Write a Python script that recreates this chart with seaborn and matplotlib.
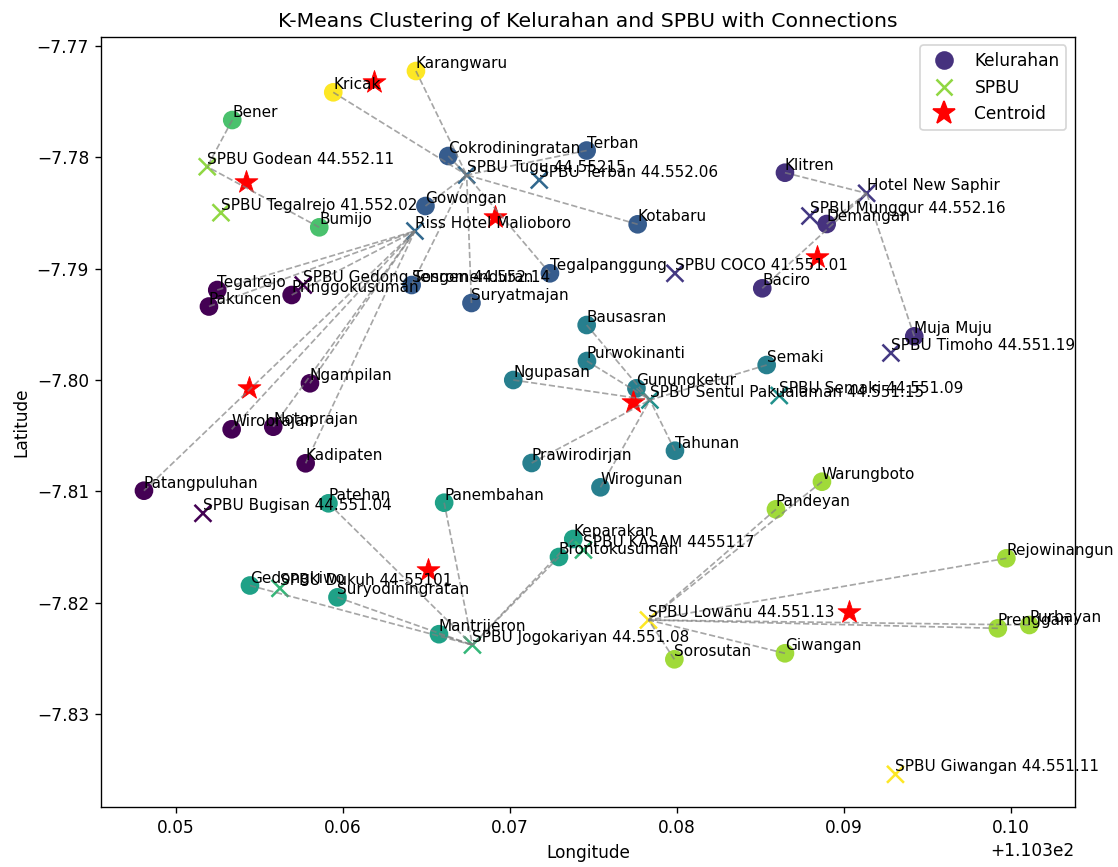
import matplotlib
matplotlib.use("Agg")
import matplotlib.pyplot as plt
from matplotlib.lines import Line2D
import seaborn as sns

# Kelurahan (villages) in Kota Yogyakarta with their K-Means cluster
kelurahan = [
    "Baciro", "Bausasran", "Bener", "Brontokusuman", "Bumijo", "Cokrodiningratan",
    "Demangan", "Gedongkiwo", "Giwangan", "Gowongan", "Gunungketur", "Kadipaten",
    "Karangwaru", "Keparakan", "Klitren", "Kotabaru", "Kricak", "Mantrijeron",
    "Muja Muju", "Ngampilan", "Ngupasan", "Notoprajan", "Pakuncen", "Pandeyan",
    "Panembahan", "Patangpuluhan", "Patehan", "Prawirodirjan", "Prenggan",
    "Pringgokusuman", "Purbayan", "Purwokinanti", "Rejowinangun", "Semaki",
    "Sorosutan", "Sosromenduran", "Suryatmajan", "Suryodiningratan", "Tahunan",
    "Tegalpanggung", "Tegalrejo", "Terban", "Warungboto", "Wirobrajan", "Wirogunan",
]
kel_lon = [
    110.385108, 110.374593, 110.353371, 110.372934, 110.358581, 110.366305,
    110.388964, 110.354431, 110.386467, 110.364940, 110.377575, 110.357766,
    110.364371, 110.373790, 110.386467, 110.377647, 110.359419, 110.365749,
    110.394210, 110.358024, 110.370198, 110.355826, 110.351976, 110.385928,
    110.366060, 110.348084, 110.359132, 110.371299, 110.399216,
    110.356928, 110.401102, 110.374611, 110.399725, 110.385371,
    110.379844, 110.364114, 110.367695, 110.359671, 110.379880,
    110.372395, 110.352473, 110.374593, 110.388683, 110.353335, 110.375419,
]
kel_lat = [
    -7.791764, -7.795061, -7.776647, -7.815899, -7.786285, -7.779881,
    -7.785988, -7.818459, -7.824550, -7.784372, -7.800747, -7.807483,
    -7.772246, -7.814282, -7.781380, -7.786015, -7.774159, -7.822834,
    -7.796076, -7.800297, -7.800001, -7.804196, -7.793399, -7.811615,
    -7.811022, -7.809944, -7.811076, -7.807456, -7.822304,
    -7.792366, -7.822007, -7.798294, -7.816016, -7.798653,
    -7.825089, -7.791468, -7.793084, -7.819520, -7.806351,
    -7.790417, -7.791917, -7.779387, -7.809136, -7.804429, -7.809639,
]
kel_cluster = [
    1, 3, 5, 4, 5, 2,
    1, 4, 6, 2, 3, 0,
    7, 4, 1, 2, 7, 4,
    1, 0, 3, 0, 0, 6,
    4, 0, 4, 3, 6,
    0, 6, 3, 6, 3,
    6, 2, 2, 4, 3,
    2, 0, 2, 6, 0, 3,
]

# Fuel stations (SPBU) and other service points
spbu_names = [
    "SPBU Godean 44.552.11", "SPBU Tegalrejo 41.552.02", "SPBU Tugu 44.55215",
    "SPBU Terban 44.552.06", "Riss Hotel Malioboro", "SPBU Gedong Tengen 44.552.14",
    "SPBU COCO 41.551.01", "Hotel New Saphir", "SPBU Munggur 44.552.16",
    "SPBU Timoho 44.551.19", "SPBU Sentul Pakualaman 44.551.15", "SPBU Semaki 44.551.09",
    "SPBU Bugisan 44.551.04", "SPBU Dukuh 44-55101", "SPBU Jogokariyan 44.551.08",
    "SPBU KASAM 4455117", "SPBU Lowanu 44.551.13", "SPBU Giwangan 44.551.11",
]
spbu_lon = [
    110.351874, 110.352695, 110.367407,
    110.371754, 110.364311, 110.357623,
    110.379880, 110.391359, 110.387964,
    110.392814, 110.378383, 110.386126,
    110.351617, 110.356228, 110.367754,
    110.374401, 110.378293, 110.393084,
]
spbu_lat = [
    -7.780842, -7.784973, -7.781587,
    -7.782036, -7.786617, -7.791468,
    -7.790417, -7.783231, -7.785270,
    -7.797576, -7.801797, -7.801393,
    -7.811975, -7.818711, -7.823804,
    -7.815270, -7.821558, -7.835418,
]
spbu_cluster = [5, 5, 2, 2, 2, 0, 1, 1, 1, 1, 3, 3, 0, 4, 4, 4, 6, 6]

# Cluster centres
centroid_lon = [110.354371, 110.388401, 110.369102, 110.377365,
                110.365072, 110.354174, 110.390299, 110.361856]
centroid_lat = [-7.800747, -7.788908, -7.785360, -7.801977,
                -7.817022, -7.782189, -7.820867, -7.773207]

# Station each cluster's kelurahan are linked to
cluster_link = {
    0: "Riss Hotel Malioboro",
    1: "Hotel New Saphir",
    2: "SPBU Tugu 44.55215",
    3: "SPBU Sentul Pakualaman 44.551.15",
    4: "SPBU Jogokariyan 44.551.08",
    5: "SPBU Godean 44.552.11",
    6: "SPBU Lowanu 44.551.13",
    7: "SPBU Tugu 44.55215",
}

DPI = 122
fig = plt.figure(figsize=(1118 / DPI, 867 / DPI), dpi=DPI)
ax = fig.add_axes([0.0903, 0.0692, 0.9615 - 0.0903, 0.9573 - 0.0692])

cmap = plt.get_cmap("viridis")
kel_pal = {k: cmap(k / max(kel_cluster)) for k in sorted(set(kel_cluster))}
spbu_pal = {k: cmap(k / max(spbu_cluster)) for k in sorted(set(spbu_cluster))}

sns.scatterplot(x=kel_lon, y=kel_lat, hue=kel_cluster, palette=kel_pal,
                s=100, marker="o", edgecolor="face", linewidth=1.0,
                legend=False, ax=ax)
sns.scatterplot(x=spbu_lon, y=spbu_lat, hue=spbu_cluster, palette=spbu_pal,
                s=100, marker="x", linewidth=1.5, legend=False, ax=ax)
sns.scatterplot(x=centroid_lon, y=centroid_lat, color="red", marker="*",
                s=200, edgecolor="face", linewidth=0.5, legend=False, ax=ax)

# Dashed connections from every kelurahan to its cluster's station
for lon, lat, c in zip(kel_lon, kel_lat, kel_cluster):
    j = spbu_names.index(cluster_link[c])
    ax.plot([lon, spbu_lon[j]], [lat, spbu_lat[j]], linestyle="--",
            color="gray", linewidth=1.0, alpha=0.7)

for name, lon, lat in zip(kelurahan, kel_lon, kel_lat):
    ax.text(lon, lat, name, fontsize=9, va="bottom", ha="left")
for name, lon, lat in zip(spbu_names, spbu_lon, spbu_lat):
    ax.text(lon, lat, name, fontsize=9, va="bottom", ha="left")

ax.set_xlim(110.345509, 110.403832)
ax.set_ylim(-7.838355, -7.769192)
ax.set_title("K-Means Clustering of Kelurahan and SPBU with Connections", fontsize=12)
ax.set_xlabel("Longitude")
ax.set_ylabel("Latitude")

handles = [
    Line2D([], [], linestyle="", marker="o", markersize=10,
           color=kel_pal[kel_cluster[0]], label="Kelurahan"),
    Line2D([], [], linestyle="", marker="x", markersize=10, markeredgewidth=1.5,
           color=spbu_pal[spbu_cluster[0]], label="SPBU"),
    Line2D([], [], linestyle="", marker="*", markersize=14,
           color="red", label="Centroid"),
]
ax.legend(handles=handles, loc="upper right")

fig.savefig("out.png", dpi=DPI)
